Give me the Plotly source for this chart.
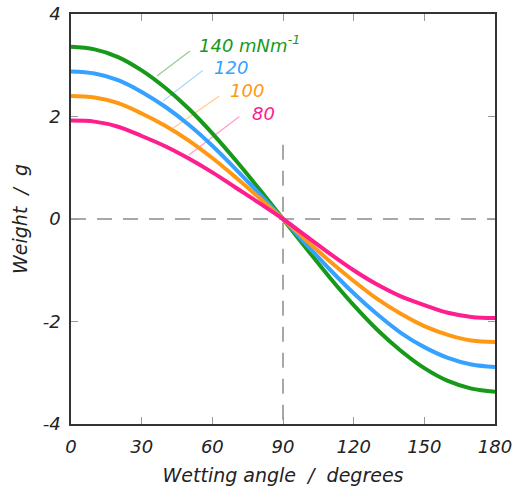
import plotly.graph_objects as go

angles = [0, 10, 20, 30, 40, 50, 60, 70, 80, 90, 100, 110, 120, 130, 140, 150, 160, 170, 180]
w140 = [3.36, 3.31, 3.16, 2.90, 2.56, 2.15, 1.67, 1.14, 0.58, 0.0, -0.58, -1.15, -1.68, -2.16, -2.57, -2.91, -3.16, -3.31, -3.37]
w120 = [2.88, 2.84, 2.71, 2.48, 2.19, 1.84, 1.43, 0.97, 0.49, 0.0, -0.50, -0.99, -1.45, -1.86, -2.22, -2.50, -2.71, -2.84, -2.89]
w100 = [2.40, 2.37, 2.26, 2.06, 1.82, 1.53, 1.19, 0.81, 0.41, 0.0, -0.42, -0.83, -1.21, -1.56, -1.85, -2.09, -2.26, -2.37, -2.40]
w80 = [1.92, 1.90, 1.80, 1.62, 1.42, 1.18, 0.91, 0.61, 0.31, 0.0, -0.34, -0.68, -1.00, -1.28, -1.51, -1.68, -1.83, -1.91, -1.93]

series = [
    ("140 mNm<sup>-1</sup>", w140, "#17991a", "#8fd08f", (36.5, 2.79), (50.5, 3.28), (53.5, 3.42)),
    ("120", w120, "#35a2ff", "#9fd0ff", (39.0, 2.30), (56.0, 2.90), (60.0, 2.95)),
    ("100", w100, "#ff9914", "#ffcc8f", (43.0, 1.76), (63.0, 2.40), (66.5, 2.50)),
    ("80", w80, "#ff1e8e", "#ff9ccc", (50.0, 1.25), (71.5, 2.00), (76.0, 2.05)),
]

y_ticks = [-4, -2, 0, 2, 4]
x_ticks = [0, 30, 60, 90, 120, 150, 180]

FONT = "DejaVu Sans"

fig = go.Figure()
for name, vals, col, light, p0, p1, tp in series:
    fig.add_trace(go.Scatter(x=angles, y=vals, mode="lines",
                             line=dict(color=col, width=4, shape="spline"),
                             showlegend=False, hoverinfo="skip"))
    fig.add_shape(type="line", x0=p0[0], y0=p0[1], x1=p1[0], y1=p1[1],
                  line=dict(color=light, width=1.2), layer="below")
    fig.add_annotation(x=tp[0], y=tp[1], text=name, showarrow=False,
                       xanchor="left", yanchor="middle",
                       font=dict(family=FONT, size=18, color=col, style="italic"))

fig.add_shape(type="line", x0=0, x1=180, y0=0, y1=0,
              line=dict(color="#8c8c8c", width=1.5, dash="15px,11px"), layer="below")
fig.add_shape(type="line", x0=90, x1=90, y0=1.45, y1=-4,
              line=dict(color="#8c8c8c", width=1.5, dash="15px,11px"), layer="below")

tick_font = dict(family=FONT, size=18, color="#222", style="italic")
fig.update_xaxes(range=[0, 180], tickvals=x_ticks, ticktext=[str(v) for v in x_ticks],
                 showgrid=False, zeroline=False, showline=True, linecolor="#333", linewidth=1.5,
                 mirror="ticks", ticks="inside", ticklen=7, tickcolor="#999", tickwidth=1.2,
                 tickfont=tick_font, automargin=False, ticklabelstandoff=6,
                 title=dict(text="Wetting angle  /  degrees", standoff=12,
                            font=dict(family=FONT, size=19, color="#222", style="italic")))
fig.update_yaxes(range=[-4, 4], tickvals=y_ticks, ticktext=[str(v) for v in y_ticks],
                 showgrid=False, zeroline=False, showline=True, linecolor="#333", linewidth=1.5,
                 mirror="ticks", ticks="inside", ticklen=7, tickcolor="#999", tickwidth=1.2,
                 tickfont=tick_font, automargin=False, ticklabelstandoff=5,
                 title=dict(text="Weight  /  g", standoff=10,
                            font=dict(family=FONT, size=19, color="#222", style="italic")))
fig.update_layout(width=513, height=488, margin=dict(l=71, r=18, t=14, b=64),
                  plot_bgcolor="white", paper_bgcolor="white")
fig.write_html("out.html")
